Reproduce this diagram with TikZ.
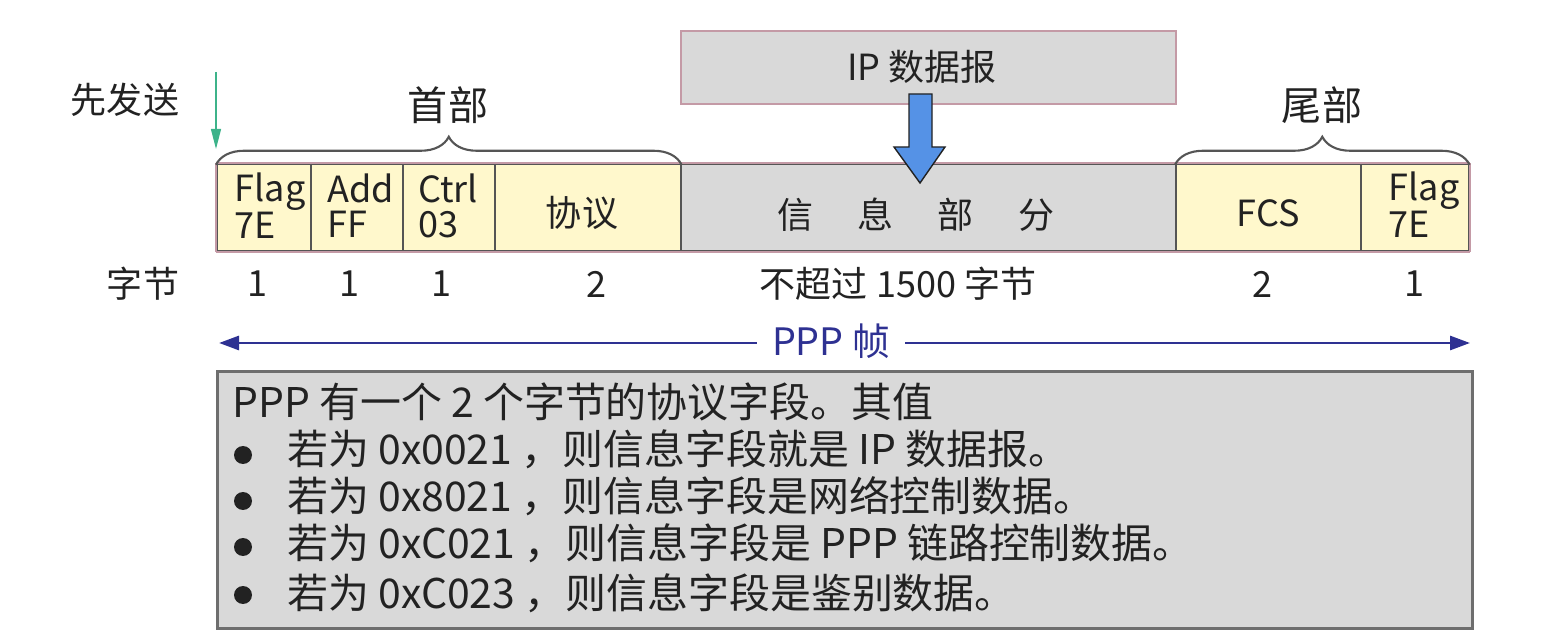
\documentclass[tikz,border=0pt]{standalone}
\usepackage{fontspec}
\setmainfont{Noto Sans CJK SC}
\usetikzlibrary{decorations.pathreplacing,arrows.meta,calc}
\definecolor{cellyellow}{HTML}{FFF8CC}
\definecolor{infogray}{HTML}{D9D9D9}
\definecolor{pinkedge}{HTML}{C49AA6}
\definecolor{divgray}{HTML}{555555}
\definecolor{pppblue}{HTML}{2E3192}
\definecolor{arrowblue}{HTML}{5592E6}
\definecolor{sendgreen}{HTML}{3DB38A}
\definecolor{ink}{HTML}{222222}
\definecolor{boxedge}{HTML}{6E6E6E}
\def\u{0.02cm}
\begin{document}
\begin{tikzpicture}[x=0.02cm,y=-0.02cm,
  cell/.style={draw=divgray, line width=0.9pt, inner sep=0, anchor=north west, minimum height=87*\u},
  ycell/.style={cell, fill=cellyellow},
  celltext/.style={text=ink, font=\fontsize{20.5pt}{20pt}\selectfont, align=left, inner sep=0},
  lbl/.style={text=ink, font=\fontsize{20.5pt}{24pt}\selectfont, inner sep=0},
  biglbl/.style={text=ink, font=\fontsize{22.8pt}{26pt}\selectfont, inner sep=0},
  bracestyle/.style={draw=divgray, line width=1.2pt, decorate, decoration={brace, amplitude=28*\u, aspect=0.5}},
  boxtext/.style={text=ink, font=\fontsize{23.3pt}{26pt}\selectfont, inner sep=0, anchor=base west},
  bulletdot/.style={circle, fill=ink, inner sep=0, minimum size=0.36cm},
]
\useasboundingbox (0,0) rectangle (1551,644);

% IP datagram box
\node[draw=pinkedge, fill=infogray, line width=0.9pt, anchor=north west, minimum width=495*\u, minimum height=73*\u, inner sep=0] (ipbox) at (680,30) {};
\node[lbl] (iptext) at (922,67) {IP 数据报};

% frame cells
\node[ycell, minimum width=94*\u] (flagA) at (216,163) {};
\node[ycell, minimum width=92*\u] (addr) at (310,163) {};
\node[ycell, minimum width=92*\u] (ctrl) at (402,163) {};
\node[ycell, minimum width=186*\u] (proto) at (494,163) {};
\node[cell, fill=infogray, minimum width=495*\u] (info) at (680,163) {};
\node[ycell, minimum width=185*\u] (fcs) at (1175,163) {};
\node[ycell, minimum width=108*\u] (flagB) at (1360,163) {};
\draw[pinkedge, line width=1.2pt] (flagA.north west) -- (flagB.north east);
\draw[pinkedge, line width=1.2pt] (flagA.south west) -- (flagB.south east);
\draw[pinkedge, line width=1.2pt] (flagA.north west) -- (flagA.south west);
\draw[pinkedge, line width=1.2pt] (flagB.north east) -- (flagB.south east);

% cell texts
\node[celltext] (tflagA) at (270,206) {Flag\\7E};
\node[celltext] (taddr) at (361,206) {Add\\FF};
\node[celltext] (tctrl) at (448,206) {Ctrl\\03};
\node[lbl] (tproto) at (582,213) {协议};
\node[lbl] (tinfo) at (916,215) {信\hspace{0.88cm}息\hspace{0.88cm}部\hspace{0.88cm}分};
\node[lbl] (tfcs) at (1268,213) {FCS};
\node[celltext] (tflagB) at (1424,205) {Flag\\7E};

% blue block arrow from IP datagram into info part
\filldraw[fill=arrowblue, draw=ink, line width=0.8pt, line join=miter]
  (909,94) -- (932,94) -- (932,147) -- (945,147) -- (920,183) -- (894,147) -- (909,147) -- cycle;

% braces
\draw[bracestyle] ([yshift=-1pt]flagA.north west) -- ([yshift=-1pt]proto.north east);
\draw[bracestyle] ([yshift=-1pt]fcs.north west) -- ([yshift=-1pt]flagB.north east);
\node[biglbl] (head) at (448,105) {首部};
\node[biglbl] (tail) at (1322,105) {尾部};

% send-first arrow
\node[lbl] (send) at (125,100) {先发送};
\coordinate (sendtop) at (216,72);
\coordinate (sendend) at (216,149);
\draw[sendgreen, line width=0.7pt, -{Triangle[length=20*\u, width=10*\u]}] (sendtop) -- (sendend);

% byte counts
\node[lbl] (bytes) at (143,284) {字节};
\node[lbl] (n1) at (257,284) {1};
\node[lbl] (n2) at (349,284) {1};
\node[lbl] (n3) at (441,284) {1};
\node[lbl] (n4) at (596,284) {2};
\node[lbl] (n5) at (898,284) {不超过 1500 字节};
\node[lbl] (n6) at (1262,284) {2};
\node[lbl] (n7) at (1414,284) {1};

% PPP frame arrow
\node[text=pppblue, font=\fontsize{21.5pt}{24pt}\selectfont, inner xsep=0.3cm, inner ysep=0] (ppp) at (831,341) {PPP 帧};
\coordinate (pppL) at (219,343);
\coordinate (pppR) at (1470,343);
\draw[pppblue, line width=1.6pt, -{Triangle[length=20*\u, width=14*\u]}] (ppp.west |- pppL) -- (pppL);
\draw[pppblue, line width=1.6pt, -{Triangle[length=20*\u, width=14*\u]}] (ppp.east |- pppR) -- (pppR);

% explanation box
\node[draw=boxedge, fill=infogray, line width=1.5pt, anchor=north west, minimum width=1255*\u, minimum height=257*\u, inner sep=0] (expl) at (216,370) {};
\node[boxtext] (l1) at (232,418) {PPP 有一个 2 个字节的协议字段。其值};
\node[bulletdot] (b2) at (243,455) {};
\node[boxtext] (l2) at (287,465) {若为 0x0021 ，则信息字段就是 IP 数据报。};
\node[bulletdot] (b3) at (243,501) {};
\node[boxtext] (l3) at (287,512) {若为 0x8021 ，则信息字段是网络控制数据。};
\node[bulletdot] (b4) at (243,547) {};
\node[boxtext] (l4) at (287,559) {若为 0xC021 ，则信息字段是 PPP 链路控制数据。};
\node[bulletdot] (b5) at (243,595) {};
\node[boxtext] (l5) at (287,608) {若为 0xC023 ，则信息字段是鉴别数据。};
\end{tikzpicture}
\end{document}
